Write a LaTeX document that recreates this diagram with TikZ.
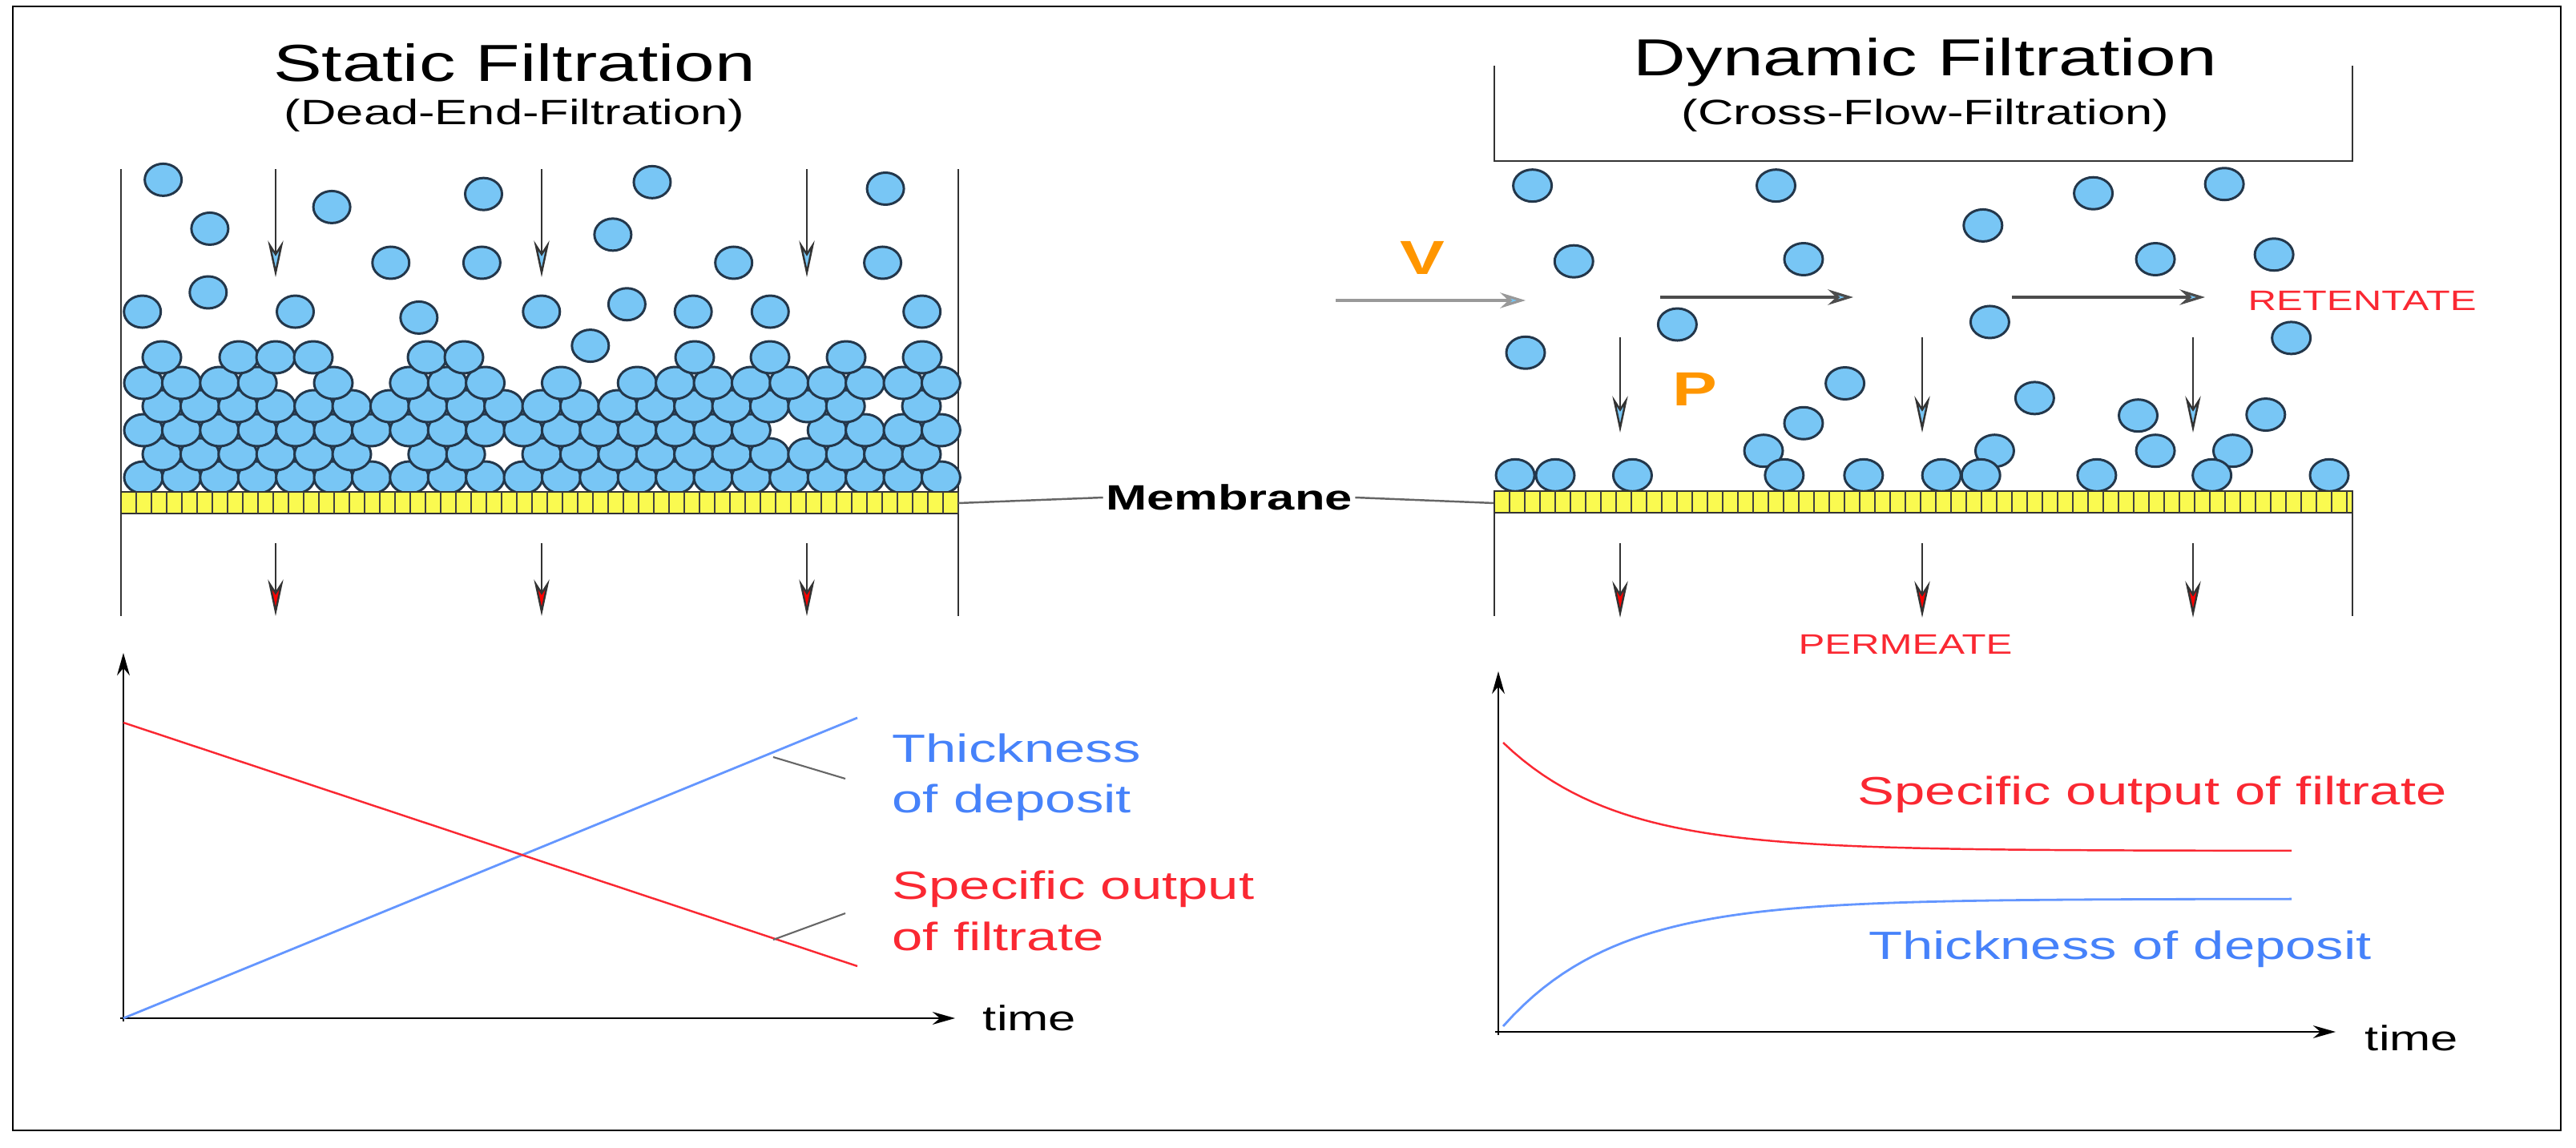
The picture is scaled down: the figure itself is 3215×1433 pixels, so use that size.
\documentclass[tikz,border=0pt]{standalone}
\usepackage{fontspec}
\setmainfont{Liberation Sans}
\usetikzlibrary{arrows.meta}
\definecolor{pfill}{RGB}{120,198,245}
\definecolor{pline}{RGB}{35,55,75}
\definecolor{myyel}{RGB}{250,250,80}
\definecolor{myred}{RGB}{250,40,50}
\definecolor{myblue}{RGB}{70,130,250}
\definecolor{lineblue}{RGB}{100,150,255}
\definecolor{myorange}{RGB}{255,150,0}
\newcommand\sx[1]{\scalebox{1.4}[1]{#1}}
\tikzset{
  part/.style={fill=pfill,draw=pline,line width=1.7pt},
  wall/.style={draw=black!80,line width=1.6pt},
  darr/.style={draw=black!80,line width=1.4pt,-{Stealth[length=26pt,width=11pt,fill=pfill]}},
  rarr/.style={draw=black!80,line width=1.4pt,-{Stealth[length=26pt,width=11pt,fill=red]}},
  harr/.style={draw=black!70,line width=1.8pt,-{Stealth[length=18pt,width=11pt,fill=pfill]}},
  memb/.style={fill=myyel,draw=black!80,line width=1.4pt},
  txt/.style={inner sep=0pt,outer sep=2pt},
  ax/.style={draw=black,line width=1.4pt,-{Stealth[length=16pt,width=9pt]}},
}
\begin{document}
\begin{tikzpicture}[x=0.02cm,y=-0.02cm]
\useasboundingbox (0,0) rectangle (3215,1433);
\draw[line width=1.6pt] (16,8) rectangle (3196,1411);
% titles
\node[txt,font=\fontsize{37}{40}\selectfont] (t1) at (642,78) {\sx{Static Filtration}};
\node[txt,font=\fontsize{25}{28}\selectfont] (s1) at (642,144) {\sx{(Dead-End-Filtration)}};
\node[txt,font=\fontsize{37}{40}\selectfont] (t2) at (2403,78) {\sx{Dynamic Filtration}};
\node[txt,font=\fontsize{25}{28}\selectfont] (s2) at (2403,144) {\sx{(Cross-Flow-Filtration)}};
% ===== left container =====
\draw[wall] (151,211) -- (151,769);
\draw[wall] (1196,211) -- (1196,769);
% bed
\foreach \r/\y/\xs/\n in {1/596/179/21,2/567/202/20,3/537/179/21,4/507/202/20,5/478/179/21}{
  \foreach \i in {0,...,\n}{
    \def\myskp{0}
    \ifnum\r=2 \ifnum\i=6 \def\myskp{1}\fi \ifnum\i=9 \def\myskp{1}\fi \fi
    \ifnum\r=3 \ifnum\i=17 \def\myskp{1}\fi \fi
    \ifnum\r=4 \ifnum\i=19 \def\myskp{1}\fi \fi
    \ifnum\r=5 \ifnum\i=4 \def\myskp{1}\fi \ifnum\i=6 \def\myskp{1}\fi \ifnum\i=10 \def\myskp{1}\fi \ifnum\i=12 \def\myskp{1}\fi \fi
    \ifnum\myskp=0 \path[part] ({\xs+47.4*\i},\y) ellipse [x radius=24,y radius=20];\fi
  }
}
\foreach \x in {202,298,344,391,533,579,867,961,1056,1151}{
  \path[part] (\x,446) ellipse [x radius=24,y radius=20];}
% free particles left
\foreach \zx/\zy in {105/120,188/285,405/212,675/168,975/128,1390/150,905/305,510/400,672/400,1120/400,1385/400,185/500,68/565,340/565,560/585,778/565,930/540,1048/565,1185/565,1455/565,865/680}{
  \path[part] ({130+\zx/1.4255},{180+\zy/2.703}) ellipse [x radius=23,y radius=20];}
% membrane left
\draw[memb] (151,614) rectangle (1196,641);
\foreach \k in {1,...,55}{\draw[black!75,line width=1.5pt] ({151+\k*19},614) -- ({151+\k*19},641);}
% arrows left
\foreach \x/\nm in {344/a,676/b,1007/c}{
  \coordinate (lt\nm) at (\x,211); \coordinate (lb\nm) at (\x,346);
  \draw[darr] (lt\nm) -- (lb\nm);
  \coordinate (pt\nm) at (\x,678); \coordinate (pb\nm) at (\x,769);
  \draw[rarr] (pt\nm) -- (pb\nm);
}
% Membrane label
\node[txt,font=\bfseries\fontsize{25}{28}\selectfont] (mem) at (1534,621) {\sx{Membrane}};
\draw[black!60,line width=1.4pt] (1196,628) -- (mem.west);
\draw[black!60,line width=1.4pt] (mem.east) -- (1865,628);
% ===== right container =====
\draw[wall] (1865,82) -- (1865,201) -- (2936,201) -- (2936,82);
\draw[wall] (1865,640) -- (1865,769);
\draw[wall] (2936,640) -- (2936,769);
\foreach \zx/\zy in {305/135,658/135,1118/160,1308/130,958/265,365/382,698/375,1208/375,1380/360,515/588,968/580,1405/632,295/680,758/780,1033/828,698/910,1183/885,1368/882,640/1000,975/1000,1208/1000,1320/1000,280/1080,338/1080,450/1080,670/1080,785/1080,898/1080,955/1080,1123/1080,1290/1080,1460/1080}{
  \path[part] ({1650+\zx/1.1615},{180+\zy/2.613}) ellipse [x radius=24,y radius=20];}
\draw[memb] (1865,613) rectangle (2936,640);
\foreach \k in {1,...,56}{\draw[black!75,line width=1.5pt] ({1865+\k*19},613) -- ({1865+\k*19},640);}
% flow arrows
\coordinate (h1a) at (1667,375); \coordinate (h1b) at (1904,375);
\coordinate (h2a) at (2072,371); \coordinate (h2b) at (2313,371);
\coordinate (h3a) at (2511,371); \coordinate (h3b) at (2752,371);
\draw[harr,draw=black!40] (h1a) -- (h1b);
\draw[harr] (h2a) -- (h2b);
\draw[harr] (h3a) -- (h3b);
\foreach \x/\nm in {2022/a,2399/b,2737/c}{
  \coordinate (rt\nm) at (\x,421); \coordinate (rb\nm) at (\x,540);
  \draw[darr] (rt\nm) -- (rb\nm);
  \coordinate (qt\nm) at (\x,678); \coordinate (qb\nm) at (\x,771);
  \draw[rarr] (qt\nm) -- (qb\nm);
}
\node[txt,text=myorange,font=\bfseries\fontsize{34}{38}\selectfont] (V) at (1775,322) {\sx{V}};
\node[txt,text=myorange,font=\bfseries\fontsize{34}{38}\selectfont] (P) at (2115,486) {\sx{P}};
\node[txt,text=myred,font=\fontsize{20}{24}\selectfont,anchor=west] (ret) at (2802,375) {\sx{RETENTATE}};
\node[txt,text=myred,font=\fontsize{20}{24}\selectfont] (perm) at (2378,804) {\sx{PERMEATE}};
% ===== left graph =====
\coordinate (o1) at (154,1271);
\coordinate (y1) at (154,815);
\coordinate (x1) at (1192,1271);
\draw[ax] (154,1275) -- (y1);
\draw[ax] (150,1271) -- (x1);
\node[txt,font=\fontsize{25}{28}\selectfont] (tm1) at (1285,1271) {\sx{time}};
\draw[lineblue,line width=1.6pt] (o1) -- (1070,896);
\draw[myred,line width=1.4pt] (154,902) -- (1070,1206);
\draw[black!60,line width=1.2pt] (965,945) -- (1055,972);
\draw[black!60,line width=1.2pt] (965,1173) -- (1055,1140);
\node[txt,anchor=west,text=myblue,font=\fontsize{28}{32}\selectfont,align=left] (thk) at (1110,970) {\sx{Thickness}\\[4pt]\sx{of deposit}};
\node[txt,anchor=west,text=myred,font=\fontsize{28}{32}\selectfont,align=left] (spo) at (1110,1137) {\sx{Specific output}\\[4pt]\sx{of filtrate}};
% ===== right graph =====
\coordinate (y2) at (1870,838);
\coordinate (x2) at (2915,1288);
\draw[ax] (1870,1292) -- (y2);
\draw[ax] (1866,1288) -- (x2);
\node[txt,font=\fontsize{25}{28}\selectfont] (tm2) at (3010,1296) {\sx{time}};
\draw[myred,line width=1.4pt] plot[domain=1876:2860,samples=80] (\x,{1062-135*exp(-(\x-1876)/140)});
\draw[lineblue,line width=1.6pt] plot[domain=1876:2860,samples=80] (\x,{1122+159*exp(-(\x-1876)/140)});
\node[txt,text=myred,font=\fontsize{28}{32}\selectfont] (spo2) at (2686,992) {\sx{Specific output of filtrate}};
\node[txt,text=myblue,font=\fontsize{28}{32}\selectfont] (thk2) at (2646,1185) {\sx{Thickness of deposit}};
\end{tikzpicture}
\end{document}
